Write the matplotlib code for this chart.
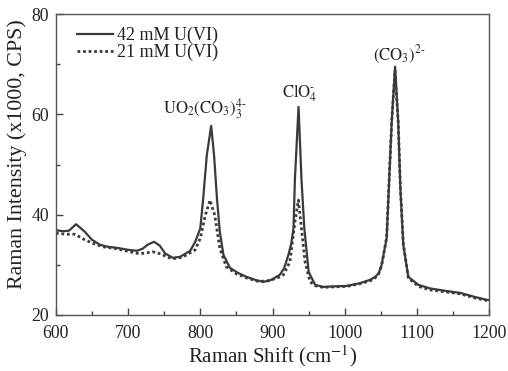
import matplotlib
matplotlib.use("Agg")
import matplotlib.pyplot as plt

plt.rcParams['font.family'] = ['Liberation Serif', 'DejaVu Serif']
plt.rcParams['mathtext.fontset'] = 'stix'

# 42 mM U(VI) (solid)
x42 = [600, 610, 618, 628, 640, 650, 661, 672, 684, 700, 712, 720, 727, 736, 744, 751,
       762, 772, 786, 793, 800, 804, 809, 815, 819, 823, 827, 832, 841, 852, 864, 876,
       887, 898, 910, 916, 922, 926, 929, 931, 936, 940, 944, 950, 959, 970, 985, 1003,
       1020, 1035, 1042, 1047, 1051, 1058, 1061, 1065, 1069.7, 1074, 1077, 1081, 1088,
       1102, 1118, 1140, 1160, 1180, 1197, 1200]
y42 = [36.9, 36.7, 36.8, 38.1, 36.6, 35.0, 34.0, 33.6, 33.4, 33.0, 32.8, 33.2, 34.0, 34.6,
       33.8, 32.3, 31.4, 31.6, 32.8, 34.6, 37.3, 43.3, 51.9, 57.7, 51.9, 43.3, 36.6, 32.0,
       29.4, 28.4, 27.6, 27.0, 26.6, 27.0, 28.0, 29.3, 32.0, 34.3, 37.3, 47.2, 61.5, 47.2,
       37.3, 28.6, 26.0, 25.6, 25.7, 25.8, 26.3, 27.0, 27.6, 28.3, 30.0, 35.3, 45.2, 58.5,
       69.5, 58.5, 45.2, 34.0, 27.6, 26.0, 25.3, 24.8, 24.4, 23.6, 23.0, 23.0]

# 21 mM U(VI) (dotted)
x21 = [600, 615, 626, 640, 651, 665, 684, 700, 712, 722, 734, 745, 755, 762, 775, 786,
       793, 800, 807, 813.4, 820, 827, 836, 850, 864, 880, 895, 910, 915, 924, 931, 935.8,
       940, 945, 952, 960, 970, 985, 1003, 1020, 1035, 1042, 1047, 1051, 1058, 1061, 1065,
       1069.5, 1074, 1077, 1081, 1088, 1102, 1118, 1140, 1160, 1180, 1197, 1200]
y21 = [36.3, 36.1, 36.1, 35.0, 34.3, 33.6, 33.2, 32.7, 32.3, 32.3, 32.6, 32.2, 31.5, 31.2,
       31.5, 32.4, 33.0, 35.3, 39.9, 42.9, 39.9, 33.3, 29.6, 28.2, 27.4, 26.7, 26.8, 27.6,
       28.0, 30.6, 38.6, 42.9, 37.3, 30.6, 26.6, 25.8, 25.5, 25.6, 25.7, 26.2, 26.8, 27.4,
       28.2, 29.8, 35.5, 45.5, 58.5, 68.8, 58.5, 45.5, 34.3, 27.4, 25.7, 25.0, 24.6, 24.2,
       23.4, 22.9, 22.9]

series_labels = ["42 mM U(VI)", "21 mM U(VI)"]
peak_labels = [r"$\mathrm{UO_2(CO_3)_3^{4\text{-}}}$", r"$\mathrm{ClO_4^{\text{-}}}$", r"$\mathrm{(CO_3)^{2\text{-}}}$"]
peak_x = [748, 913, 1039]
peak_y = [60.1, 63.5, 70.8]

xticks = [600, 700, 800, 900, 1000, 1100, 1200]
yticks = [20, 40, 60, 80]

fig = plt.figure(figsize=(5.08, 3.71), dpi=100)
ax = fig.add_axes([0.110, 0.151, 0.853, 0.811])

lc = '#3a3a3a'
ax.plot(x42, y42, color=lc, lw=1.6, ls='-', label=series_labels[0])
ax.plot(x21, y21, color=lc, lw=2.0, ls=(0, (1, 1)), label=series_labels[1])

for t, px, py in zip(peak_labels, peak_x, peak_y):
    ax.text(px, py, t, fontsize=12, color='#222222', ha='left', va='baseline')

ax.set_xlim(600, 1200)
ax.set_ylim(20, 80)
ax.set_xticks(xticks)
ax.set_yticks(yticks)
ax.set_xticks([650, 750, 850, 950, 1050, 1150], minor=True)
ax.set_yticks([30, 50, 70], minor=True)
ax.tick_params(which='both', direction='in', colors='#444444', labelcolor='#222222',
               labelsize=12.8)
ax.tick_params(which='major', length=5, width=1)
ax.tick_params(which='minor', length=3, width=1)
ax.tick_params(axis='x', which='major', pad=7)
ax.tick_params(axis='y', which='major', pad=5)
for s in ax.spines.values():
    s.set_color('#555555')
    s.set_linewidth(1.0)

ax.set_xlabel("Raman Shift (cm$^{-1}$)", fontsize=15, color='#222222', labelpad=1)
ax.set_ylabel("Raman Intensity (x1000, CPS)", fontsize=15.8, color='#222222')
ax.yaxis.set_label_coords(-0.067, 0.535)

leg = ax.legend(loc='upper left', frameon=False, fontsize=13, handlelength=2.0,
                handletextpad=0.2, labelspacing=0.0, borderaxespad=0.3,
                bbox_to_anchor=(0.02, 1.0))
for t in leg.get_texts():
    t.set_color('#222222')

fig.savefig("out.png", dpi=100)
